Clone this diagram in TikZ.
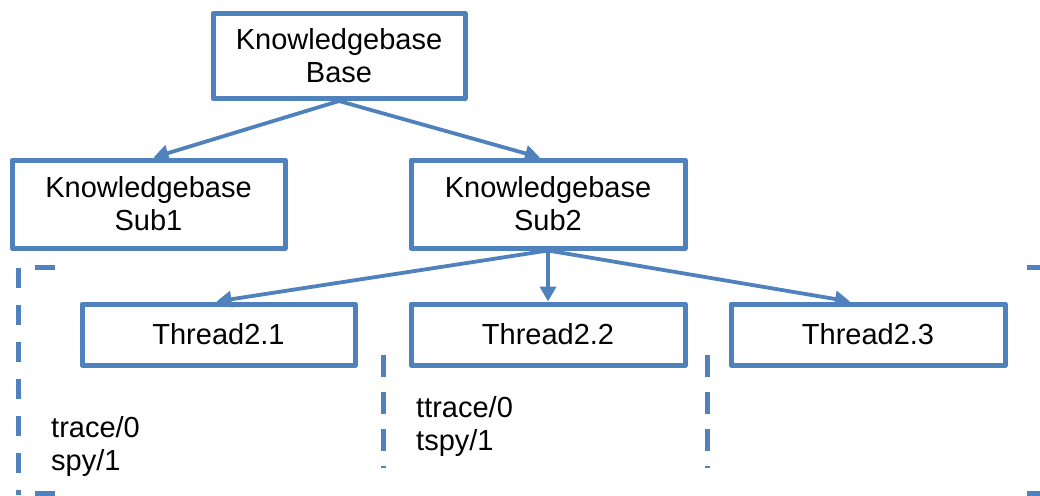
\documentclass[tikz,border=0pt]{standalone}
\usepackage{fontspec}
\setmainfont{Liberation Sans}
\usetikzlibrary{arrows.meta}
\definecolor{kbblue}{HTML}{4F81BD}
\begin{document}
\begin{tikzpicture}[x=1pt,y=-1pt,
  kbbox/.style={draw=kbblue, line width=5pt, line join=round, fill=white,
    inner sep=0pt, align=center, font=\fontsize{29}{33}\selectfont},
  conn/.style={draw=kbblue, line width=3.8pt, -{Triangle[length=15pt,width=16pt]}},
  dashside/.style={draw=kbblue, line width=5pt},
  lbl/.style={inner sep=0pt, align=left, anchor=north west, font=\fontsize{29}{33}\selectfont}
]
\useasboundingbox (0,0) rectangle (1040,495);
% boxes
\node[kbbox, minimum width=252pt, minimum height=85pt] (base) at (339,56) {Knowledgebase\\Base};
\node[kbbox, minimum width=273pt, minimum height=88pt] (sub1) at (148.5,204) {Knowledgebase\\Sub1};
\node[kbbox, minimum width=274pt, minimum height=88pt] (sub2) at (548,204) {Knowledgebase\\Sub2};
\node[kbbox, minimum width=273pt, minimum height=61pt] (t21) at (218.5,334.5) {Thread2.1};
\node[kbbox, minimum width=274pt, minimum height=61pt] (t22) at (548,334.5) {Thread2.2};
\node[kbbox, minimum width=274pt, minimum height=61pt] (t23) at (868,334.5) {Thread2.3};
% connectors
\draw[conn] (base.south) -- ([xshift=5pt]sub1.north);
\draw[conn] (base.south) -- ([xshift=-8pt]sub2.north);
\draw[conn] (sub2.south) -- ([xshift=-2pt]t21.north);
\draw[conn] (sub2.south) -- (t22.north);
\draw[conn] (sub2.south) -- ([xshift=-18pt]t23.north);
% dashed frame pieces
\coordinate (fl1) at (18,268);
\coordinate (fl2) at (18,495);
\draw[dashside, dash pattern=on 20pt off 17pt] (fl1) -- (fl2);
\coordinate (tl1) at (35,267.5);
\coordinate (tl2) at (55,267.5);
\draw[dashside] (tl1) -- (tl2);
\coordinate (bl1) at (35,493);
\coordinate (bl2) at (55,493);
\draw[dashside] (bl1) -- (bl2);
\coordinate (tr1) at (1027,267.5);
\coordinate (tr2) at (1040,267.5);
\draw[dashside] (tr1) -- (tr2);
\coordinate (br1) at (1027,493);
\coordinate (br2) at (1040,493);
\draw[dashside] (br1) -- (br2);
% middle dashed separators
\coordinate (m1a) at (383,355);
\coordinate (m1b) at (383,467.5);
\coordinate (m2a) at (707,355);
\coordinate (m2b) at (707,467.5);
\draw[dashside, dash pattern=on 22pt off 15pt] (m1a) -- (m1b);
\draw[dashside, dash pattern=on 22pt off 15pt] (m2a) -- (m2b);
% labels
\node[lbl] (l1) at (51,416) {trace/0\\spy/1};
\node[lbl] (l2) at (416,396) {ttrace/0\\tspy/1};
\end{tikzpicture}
\end{document}
